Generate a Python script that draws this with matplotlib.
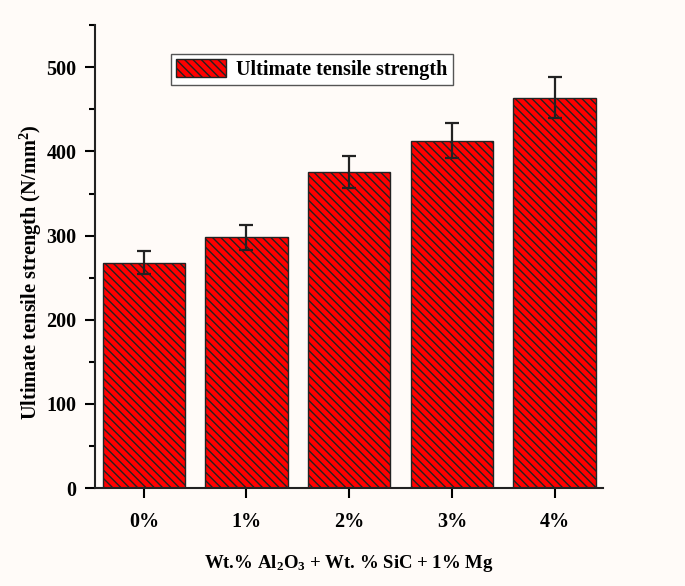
import numpy as np
import matplotlib
matplotlib.use('Agg')
import matplotlib.pyplot as plt
from matplotlib.ticker import MultipleLocator

# data
labels = ['0%', '1%', '2%', '3%', '4%']
uts = [268, 298, 376, 413, 464]
err = [14, 15, 19, 21, 24]

plt.rcParams['font.family'] = ['Liberation Serif', 'DejaVu Serif']
plt.rcParams['font.weight'] = 'bold'
plt.rcParams['mathtext.fontset'] = 'custom'
plt.rcParams['mathtext.rm'] = 'Liberation Serif:bold'
plt.rcParams['mathtext.it'] = 'Liberation Serif:bold'
plt.rcParams['mathtext.bf'] = 'Liberation Serif:bold'
plt.rcParams['hatch.linewidth'] = 1.0

bg = '#fffbf8'
fig = plt.figure(figsize=(6.85, 5.86), dpi=100, facecolor=bg)
ax = fig.add_axes([0.138, 0.167, 0.742, 0.790], facecolor=bg)

x = np.arange(len(labels))
ax.bar(x, uts, width=0.8, color='#ff0000', edgecolor='#222222', linewidth=1.0,
       hatch='\\\\\\\\', label='Ultimate tensile strength')
ax.errorbar(x, uts, yerr=err, fmt='none', ecolor='#222222', elinewidth=1.6,
            capsize=5, capthick=1.6)

ax.set_xlim(-0.48, 4.47)
ax.set_ylim(0, 550)
ax.set_xticks(x)
ax.set_xticklabels(labels)
ax.yaxis.set_major_locator(MultipleLocator(100))
ax.yaxis.set_minor_locator(MultipleLocator(50))
ax.tick_params(axis='both', which='major', direction='out', length=7, width=1.5,
               labelsize=14.5, pad=6)
ax.tick_params(axis='y', which='minor', direction='out', length=4, width=1.5)
ax.tick_params(axis='x', pad=10)
for s in ['top', 'right']:
    ax.spines[s].set_visible(False)
for s in ['left', 'bottom']:
    ax.spines[s].set_linewidth(1.5)
    ax.spines[s].set_color('#222222')

ax.set_ylabel('Ultimate tensile strength (N/mm$^2$)', fontsize=14.7, fontweight='bold')
ax.yaxis.set_label_coords(-0.10, 0.466)
ax.set_xlabel('Wt.% Al$_2$O$_3$ + Wt. % SiC + 1% Mg', fontsize=13.5, fontweight='bold', labelpad=15)

leg = ax.legend(loc='upper left', bbox_to_anchor=(0.13, 0.96), fontsize=14.5,
                fancybox=False, edgecolor='#555555', framealpha=1.0,
                handlelength=2.5, handleheight=1.0, borderpad=0.25, handletextpad=0.5)
leg.get_frame().set_linewidth(1.0)

fig.savefig('out.png', dpi=100, facecolor=bg)
